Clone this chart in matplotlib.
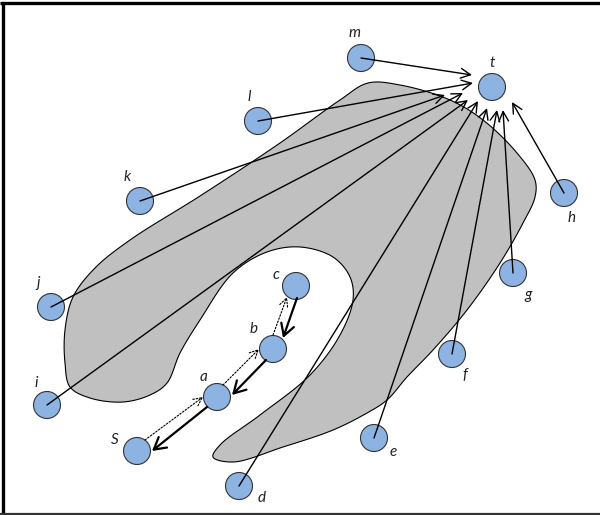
import numpy as np
import matplotlib
matplotlib.use("Agg")
import matplotlib.pyplot as plt
from matplotlib.patches import Circle, Polygon

# ---- data (pixel coordinates of the reference diagram) ----
node_names = ["m", "t", "l", "k", "j", "i", "S", "a", "b", "c", "d", "e", "f", "g", "h"]
node_x = [361, 492, 258, 140, 51, 47, 137, 217, 273, 296, 239, 374, 452, 513, 564]
node_y = [58, 87, 121, 201, 307, 405, 451, 397, 349, 286, 486, 438, 354, 273, 193]
label_x = [355, 492, 249, 127, 38, 36, 115, 204, 254, 276, 262, 393, 465, 528, 572]
label_y = [33, 63, 97, 177, 283, 383, 440, 377, 329, 275, 498, 452, 375, 295, 218]

# arrows into t: source node and arrow tip
to_t_sources = ["m", "l", "k", "j", "i", "d", "e", "f", "g", "h"]
to_t_tip_x = [472, 473, 445, 463, 468, 478, 487, 497, 503, 512]
to_t_tip_y = [75, 83, 95, 93, 100, 101, 108, 110, 110, 102]

# path arrows among S, a, b, c
solid_start = [(297, 298), (266, 360), (207, 407)]
solid_end = [(283, 338), (232, 395), (152, 451)]
dotted_start = [(273, 335), (223, 385), (145, 440)]
dotted_end = [(287, 297), (259, 349), (203, 397)]

# outline of the grey horseshoe region
shape_x = [368, 400, 450, 483, 517, 535, 535, 523, 500, 467, 433, 407, 387, 367,
           333, 283, 233, 213, 220, 260, 310, 340, 353, 350, 333, 300, 267,
           233, 200, 180, 167, 150, 123, 90, 70, 65, 65, 73, 95, 130, 200, 280,
           340]
shape_y = [83, 85, 100, 120, 153, 180, 197, 223, 263, 310, 350, 377, 400, 413,
           430, 447, 462, 457, 445, 415, 375, 335, 300, 277, 257, 247, 252,
           273, 320, 353, 383, 395, 402, 398, 387, 363, 330, 297, 268, 240, 196, 143,
           100]

W, H = 600, 515


def centripetal_cr_closed(xs, ys, n=16, alpha=0.5):
    P = np.column_stack([xs, ys]).astype(float)
    N = len(P)
    out = []
    for i in range(N):
        p0, p1, p2, p3 = P[(i - 1) % N], P[i], P[(i + 1) % N], P[(i + 2) % N]
        t0 = 0.0
        t1 = t0 + np.linalg.norm(p1 - p0) ** alpha
        t2 = t1 + np.linalg.norm(p2 - p1) ** alpha
        t3 = t2 + np.linalg.norm(p3 - p2) ** alpha
        for t in np.linspace(t1, t2, n, endpoint=False):
            a1 = (t1 - t) / (t1 - t0) * p0 + (t - t0) / (t1 - t0) * p1
            a2 = (t2 - t) / (t2 - t1) * p1 + (t - t1) / (t2 - t1) * p2
            a3 = (t3 - t) / (t3 - t2) * p2 + (t - t2) / (t3 - t2) * p3
            b1 = (t2 - t) / (t2 - t0) * a1 + (t - t0) / (t2 - t0) * a2
            b2 = (t3 - t) / (t3 - t1) * a2 + (t - t1) / (t3 - t1) * a3
            out.append((t2 - t) / (t2 - t1) * b1 + (t - t1) / (t2 - t1) * b2)
    return np.array(out)


fig = plt.figure(figsize=(6.0, 5.15), dpi=100)
ax = fig.add_axes([0, 0, 1, 1])
ax.set_xlim(0, W)
ax.set_ylim(H, 0)
ax.set_aspect("equal")
ax.axis("off")

# grey region
pts = centripetal_cr_closed(shape_x, shape_y)
ax.add_patch(Polygon(pts, closed=True, facecolor="#c0c0c0", edgecolor="black",
                     linewidth=0.8, zorder=1))

# nodes
pos = {n: (x, y) for n, x, y in zip(node_names, node_x, node_y)}
for n, x, y in zip(node_names, node_x, node_y):
    ax.add_patch(Circle((x, y), 13.5, facecolor="#8db3e2", edgecolor="#333333",
                        linewidth=0.8, zorder=2))
for n, x, y in zip(node_names, label_x, label_y):
    ax.text(x, y, n, fontsize=11, style="italic", family="Lato",
            ha="center", va="center", color="#222222", zorder=5)

# arrows into t
for s, tx, ty in zip(to_t_sources, to_t_tip_x, to_t_tip_y):
    ax.annotate("", xy=(tx, ty), xytext=pos[s], xycoords="data",
                arrowprops=dict(arrowstyle="->,head_length=0.7,head_width=0.35",
                                mutation_scale=10, lw=1.0, color="black",
                                shrinkA=0, shrinkB=0), zorder=3)

# path arrows
for (x0, y0), (x1, y1) in zip(solid_start, solid_end):
    ax.annotate("", xy=(x1, y1), xytext=(x0, y0), xycoords="data",
                arrowprops=dict(arrowstyle="->,head_length=0.7,head_width=0.4",
                                mutation_scale=12, lw=1.6, color="black",
                                shrinkA=0, shrinkB=0), zorder=3)
for (x0, y0), (x1, y1) in zip(dotted_start, dotted_end):
    ax.annotate("", xy=(x1, y1), xytext=(x0, y0), xycoords="data",
                arrowprops=dict(arrowstyle="->,head_length=0.6,head_width=0.3",
                                mutation_scale=10, lw=0.8, color="black",
                                linestyle=(0, (1.5, 1.5)),
                                shrinkA=0, shrinkB=0), zorder=3)

# frame
ax.plot([0, W], [3, 3], color="black", lw=2.4, zorder=6, solid_capstyle="butt")
ax.plot([2.5, 2.5], [2, H], color="black", lw=2.4, zorder=6, solid_capstyle="butt")
ax.plot([0, W], [513.5, 513.5], color="#333333", lw=1.6, zorder=6, solid_capstyle="butt")

fig.savefig("out.png", dpi=100)
